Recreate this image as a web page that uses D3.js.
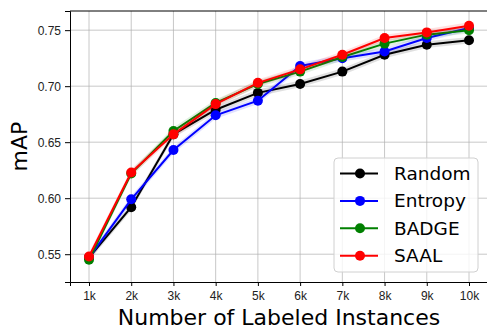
<!DOCTYPE html>
<html lang="en">
<head>
<meta charset="UTF-8">
<title>mAP vs labeled instances</title>
<script src="https://d3js.org/d3.v7.min.js"></script>
<style>
  body { margin: 0; background: #fff; }
  svg { font-family: "DejaVu Sans", sans-serif; }
  .grid line { stroke: #b0b0b0; stroke-opacity: 0.7; stroke-width: 1; }
  .axis path, .axis line { stroke: #000; }
  .axis text { fill: #222; font-size: 12px; }
</style>
</head>
<body>
<svg width="487" height="329"></svg>
<script>
// labeled set sizes (thousands)
var budgets = [1, 2, 3, 4, 5, 6, 7, 8, 9, 10];
var tickLabels = ["1k", "2k", "3k", "4k", "5k", "6k", "7k", "8k", "9k", "10k"];
var yTicks = [0.55, 0.60, 0.65, 0.70, 0.75];

var randomMAP  = [0.547, 0.592, 0.657, 0.679, 0.694, 0.702, 0.713, 0.728, 0.737, 0.741];
var entropyMAP = [0.547, 0.599, 0.643, 0.674, 0.687, 0.718, 0.725, 0.731, 0.743, 0.752];
var badgeMAP   = [0.545, 0.622, 0.660, 0.685, 0.702, 0.713, 0.726, 0.738, 0.746, 0.750];
var saalMAP    = [0.548, 0.623, 0.657, 0.684, 0.703, 0.715, 0.728, 0.743, 0.748, 0.754];

var randomStd  = [0.003, 0.003, 0.003, 0.003, 0.003, 0.003, 0.003, 0.003, 0.003, 0.003];
var entropyStd = [0.003, 0.003, 0.003, 0.003, 0.003, 0.003, 0.003, 0.003, 0.003, 0.003];
var badgeStd   = [0.003, 0.003, 0.003, 0.003, 0.003, 0.003, 0.003, 0.003, 0.003, 0.003];
var saalStd    = [0.003, 0.003, 0.003, 0.003, 0.003, 0.003, 0.003, 0.003, 0.003, 0.003];

var methods = [
  {name: "Random",  color: "#000000", values: randomMAP,  std: randomStd},
  {name: "Entropy", color: "#0000ff", values: entropyMAP, std: entropyStd},
  {name: "BADGE",   color: "#008000", values: badgeMAP,   std: badgeStd},
  {name: "SAAL",    color: "#ff0000", values: saalMAP,    std: saalStd}
];

var margin = {left: 70, top: 11, right: -1, bottom: 47};
var width = 487, height = 329;

var x = d3.scaleLinear().domain([0.55, 10.45]).range([margin.left, width - margin.right]);
var y = d3.scaleLinear().domain([0.5252, 0.7671]).range([height - margin.bottom, margin.top]);

var svg = d3.select("svg");

// gridlines
var grid = svg.append("g").attr("class", "grid");
grid.selectAll("line.gx").data(budgets).enter().append("line")
    .attr("x1", function(d){ return x(d); }).attr("x2", function(d){ return x(d); })
    .attr("y1", y.range()[0]).attr("y2", y.range()[1]);
grid.selectAll("line.gy").data(yTicks).enter().append("line")
    .attr("y1", function(d){ return y(d); }).attr("y2", function(d){ return y(d); })
    .attr("x1", x.range()[0]).attr("x2", x.range()[1]);

var band = d3.area()
    .x(function(d, i){ return x(budgets[i]); })
    .y0(function(d){ return y(d[0]); })
    .y1(function(d){ return y(d[1]); });

var line = d3.line()
    .x(function(d, i){ return x(budgets[i]); })
    .y(function(d){ return y(d); });

methods.forEach(function(m){
  var g = svg.append("g");
  g.append("path")
      .datum(m.values.map(function(v, i){ return [v - m.std[i], v + m.std[i]]; }))
      .attr("d", band)
      .attr("fill", m.color)
      .attr("fill-opacity", 0.12);
  g.append("path")
      .datum(m.values)
      .attr("d", line)
      .attr("fill", "none")
      .attr("stroke", m.color)
      .attr("stroke-width", 2);
  g.selectAll("circle").data(m.values).enter().append("circle")
      .attr("cx", function(d, i){ return x(budgets[i]); })
      .attr("cy", function(d){ return y(d); })
      .attr("r", 5)
      .attr("fill", m.color);
});

// axes
var xAxis = d3.axisBottom(x).tickValues(budgets)
    .tickFormat(function(d, i){ return tickLabels[i]; })
    .tickSizeOuter(0).tickSize(4).tickPadding(5);
var yAxis = d3.axisLeft(y).tickValues(yTicks)
    .tickFormat(d3.format(".2f"))
    .tickSizeOuter(0).tickSize(5).tickPadding(4);

svg.append("g").attr("class", "axis")
    .attr("transform", "translate(0," + y.range()[0] + ")")
    .call(xAxis);
svg.append("g").attr("class", "axis")
    .attr("transform", "translate(" + x.range()[0] + ",0)")
    .call(yAxis);

// top spine
svg.append("line")
    .attr("x1", x.range()[0]).attr("x2", x.range()[1])
    .attr("y1", y.range()[1]).attr("y2", y.range()[1])
    .attr("stroke", "#000");

// axis labels
svg.append("text")
    .attr("x", (x.range()[0] + x.range()[1]) / 2)
    .attr("y", 325)
    .attr("text-anchor", "middle")
    .attr("font-size", 22)
    .text("Number of Labeled Instances");
svg.append("text")
    .attr("transform", "translate(27," + ((y.range()[0] + y.range()[1]) / 2) + ") rotate(-90)")
    .attr("text-anchor", "middle")
    .attr("font-size", 22)
    .text("mAP");

// legend
var legend = svg.append("g").attr("transform", "translate(334,158)");
legend.append("rect")
    .attr("width", 144).attr("height", 114)
    .attr("rx", 4)
    .attr("fill", "#fff").attr("fill-opacity", 0.8)
    .attr("stroke", "#d0d0d0");
var item = legend.selectAll("g.item").data(methods).enter().append("g")
    .attr("transform", function(d, i){ return "translate(0," + (15.5 + i * 27.4) + ")"; });
item.append("line")
    .attr("x1", 6).attr("x2", 44)
    .attr("stroke", function(d){ return d.color; })
    .attr("stroke-width", 2);
item.append("circle")
    .attr("cx", 26).attr("r", 5)
    .attr("fill", function(d){ return d.color; });
item.append("text")
    .attr("x", 60).attr("dy", "0.35em")
    .attr("font-size", 18.5)
    .text(function(d){ return d.name; });
</script>
</body>
</html>
